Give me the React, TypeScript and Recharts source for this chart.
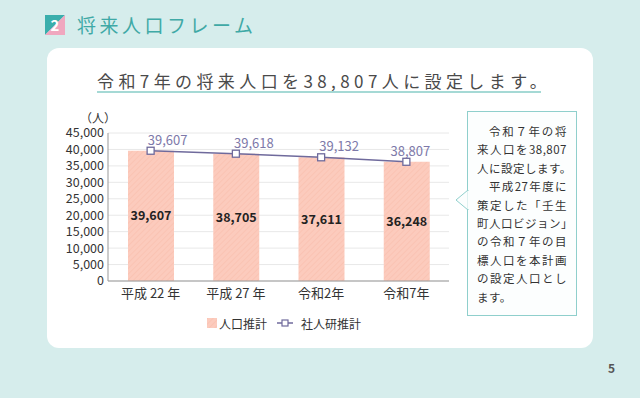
import React from "react";
import {
  ComposedChart, Bar, Line, XAxis, YAxis, CartesianGrid, Legend, LabelList,
} from "recharts";

// 年次
const periods = ["平成 22 年", "平成 27 年", "令和2年", "令和7年"];
// 人口推計（棒）
const estimate = [39607, 38705, 37611, 36248];
// 社人研推計（折れ線）: 図上の点の位置
const ipssPoints = [39607, 38705, 37611, 36248];
// 社人研推計のラベル表示値
const ipssLabels = [39607, 39618, 39132, 38807];
const yTicks = [0, 5000, 10000, 15000, 20000, 25000, 30000, 35000, 40000, 45000];

const calloutLines = [
  "令和７年の将",
  "来人口を38,807",
  "人に設定します。",
  "平成27年度に",
  "策定した「壬生",
  "町人口ビジョン」",
  "の令和７年の目",
  "標人口を本計画",
  "の設定人口とし",
  "ます。",
];
const indented = [0, 3];

const data = periods.map((p, i) => ({
  period: p,
  estimate: estimate[i],
  ipss: ipssPoints[i],
  ipssLabel: ipssLabels[i],
}));

const FONT = '"Noto Sans CJK JP", "Noto Sans", sans-serif';
const TEAL = "#3fa9a6";
const LINE = "#6f6a9c";
const fmt = (v: number) => v.toLocaleString("en-US");

const labelDx = [17, 18, 18, 4]; // ラベルの横ずれ

const LineLabel = (props: any) => {
  const { x, y, index, value } = props;
  return (
    <text x={x + labelDx[index]} y={y - 6} textAnchor="middle" fill="#7d79a9" fontSize={13} fontFamily={FONT}>
      {fmt(value)}
    </text>
  );
};

const SquareDot = (props: any) => {
  const { cx, cy, index } = props;
  return <rect key={index} x={cx - 3.5} y={cy - 3.5} width={7} height={7} fill="#fff" stroke={LINE} strokeWidth={1.3} />;
};

const renderLegend = () => (
  <div style={{ height: 20, display: "flex", alignItems: "center", paddingLeft: 199, fontSize: 12, color: "#333", fontFamily: FONT }}>
    <svg width={10} height={10} style={{ marginRight: 2 }}>
      <rect width={10} height={10} fill="url(#hatch)" />
    </svg>
    <span>人口推計</span>
    <svg width={16} height={10} style={{ marginLeft: 10, marginRight: 8 }}>
      <line x1={0} y1={5} x2={16} y2={5} stroke={LINE} strokeWidth={1.5} />
      <rect x={5} y={2} width={6} height={6} fill="#fff" stroke={LINE} strokeWidth={1.2} />
    </svg>
    <span>社人研推計</span>
  </div>
);

export default function App() {
  return (
    <div style={{ position: "fixed", left: 0, top: 0, width: 640, height: 398, background: "#d6edec", fontFamily: FONT, overflow: "hidden" }}>
      {/* 見出し */}
      <svg width={20} height={20} style={{ position: "absolute", left: 45, top: 15 }}>
        <polygon points="0,0 20,0 0,20" fill="#3aaeac" />
        <polygon points="20,0 20,20 0,20" fill="#f0a7bf" />
        <text x={10} y={15.5} textAnchor="middle" fill="#fff" fontSize={15} fontWeight="bold" fontFamily={FONT}>2</text>
      </svg>
      <div style={{ position: "absolute", left: 77, top: 12, fontSize: 19, letterSpacing: 3.5, color: TEAL, lineHeight: "26px" }}>
        将来人口フレーム
      </div>

      {/* カード */}
      <div style={{ position: "absolute", left: 47, top: 48, width: 546, height: 300, background: "#fff", borderRadius: 12 }} />

      <div style={{ position: "absolute", left: 97, top: 70, fontSize: 17, letterSpacing: 4.4, color: "#4a4a4a", lineHeight: "22px", whiteSpace: "nowrap" }}>
        令和7年の将来人口を38,807人に設定します。
      </div>
      <div style={{ position: "absolute", left: 97, top: 91, width: 444, height: 2, background: "#a5d9d5" }} />

      <div style={{ position: "absolute", left: 80, top: 109, fontSize: 12, color: "#333" }}>（人）</div>

      <div style={{ position: "absolute", left: 0, top: 0 }}>
        <ComposedChart width={460} height={340} data={data} margin={{ top: 133, right: 11, bottom: 7, left: 8 }}>
          <defs>
            <pattern id="hatch" patternUnits="userSpaceOnUse" width={4} height={4} patternTransform="rotate(45)">
              <rect width={4} height={4} fill="#fccbbd" />
              <line x1={0} y1={0} x2={0} y2={4} stroke="#f8bba9" strokeWidth={1} />
            </pattern>
          </defs>
          <CartesianGrid vertical={false} stroke="#e8e8e8" />
          <XAxis dataKey="period" height={32} tickSize={0} tickMargin={8} axisLine={{ stroke: "#999" }}
            tick={{ fill: "#333", fontSize: 13, fontFamily: FONT }} />
          <YAxis width={100} domain={[0, 45000]} ticks={yTicks} tickFormatter={fmt} tickSize={0} tickMargin={4}
            axisLine={{ stroke: "#999" }} tick={{ fill: "#333", fontSize: 12.5, fontFamily: FONT }} interval={0} />
          <XAxis xAxisId="frame" orientation="top" dataKey="period" height={0} tick={false} tickLine={false} axisLine={{ stroke: "#999" }} />
          <YAxis yAxisId="frame" orientation="right" width={0} domain={[0, 45000]} tick={false} tickLine={false} axisLine={{ stroke: "#999" }} />
          <Legend verticalAlign="bottom" content={renderLegend} />
          <Bar dataKey="estimate" name="人口推計" fill="url(#hatch)" barSize={46} isAnimationActive={false}>
            <LabelList dataKey="estimate" position="center" formatter={(v: any) => fmt(v)}
              fill="#222" fontSize={12.5} fontWeight="bold" fontFamily={FONT} />
          </Bar>
          <Line dataKey="ipss" name="社人研推計" stroke={LINE} strokeWidth={1.5} isAnimationActive={false}
            dot={SquareDot} activeDot={false}>
            <LabelList dataKey="ipssLabel" content={LineLabel} />
          </Line>
        </ComposedChart>
      </div>

      {/* 吹き出し */}
      <div style={{ position: "absolute", left: 467, top: 111, width: 108, height: 203, border: "1px solid #8fcfcc", background: "#fcfefe" }} />
      <svg width={14} height={20} style={{ position: "absolute", left: 455, top: 190 }}>
        <polygon points="13,0 1,10 13,20" fill="#fcfefe" stroke="#8fcfcc" />
        <rect x={12.5} y={1} width={2} height={18} fill="#fcfefe" />
      </svg>
      <div style={{ position: "absolute", left: 477, top: 122, width: 90, fontSize: 11.5, lineHeight: "18.4px", color: "#333" }}>
        {calloutLines.map((t, i) => (
          <div key={i} style={{
            paddingLeft: indented.includes(i) ? 12 : 0,
            textAlign: "justify",
            textAlignLast: i === calloutLines.length - 1 ? "left" : "justify",
            letterSpacing: 0.5,
            whiteSpace: "nowrap",
          }}>{t}</div>
        ))}
      </div>

      <div style={{ position: "absolute", left: 608, top: 359, fontSize: 12, color: "#555", fontWeight: "bold" }}>5</div>
    </div>
  );
}
